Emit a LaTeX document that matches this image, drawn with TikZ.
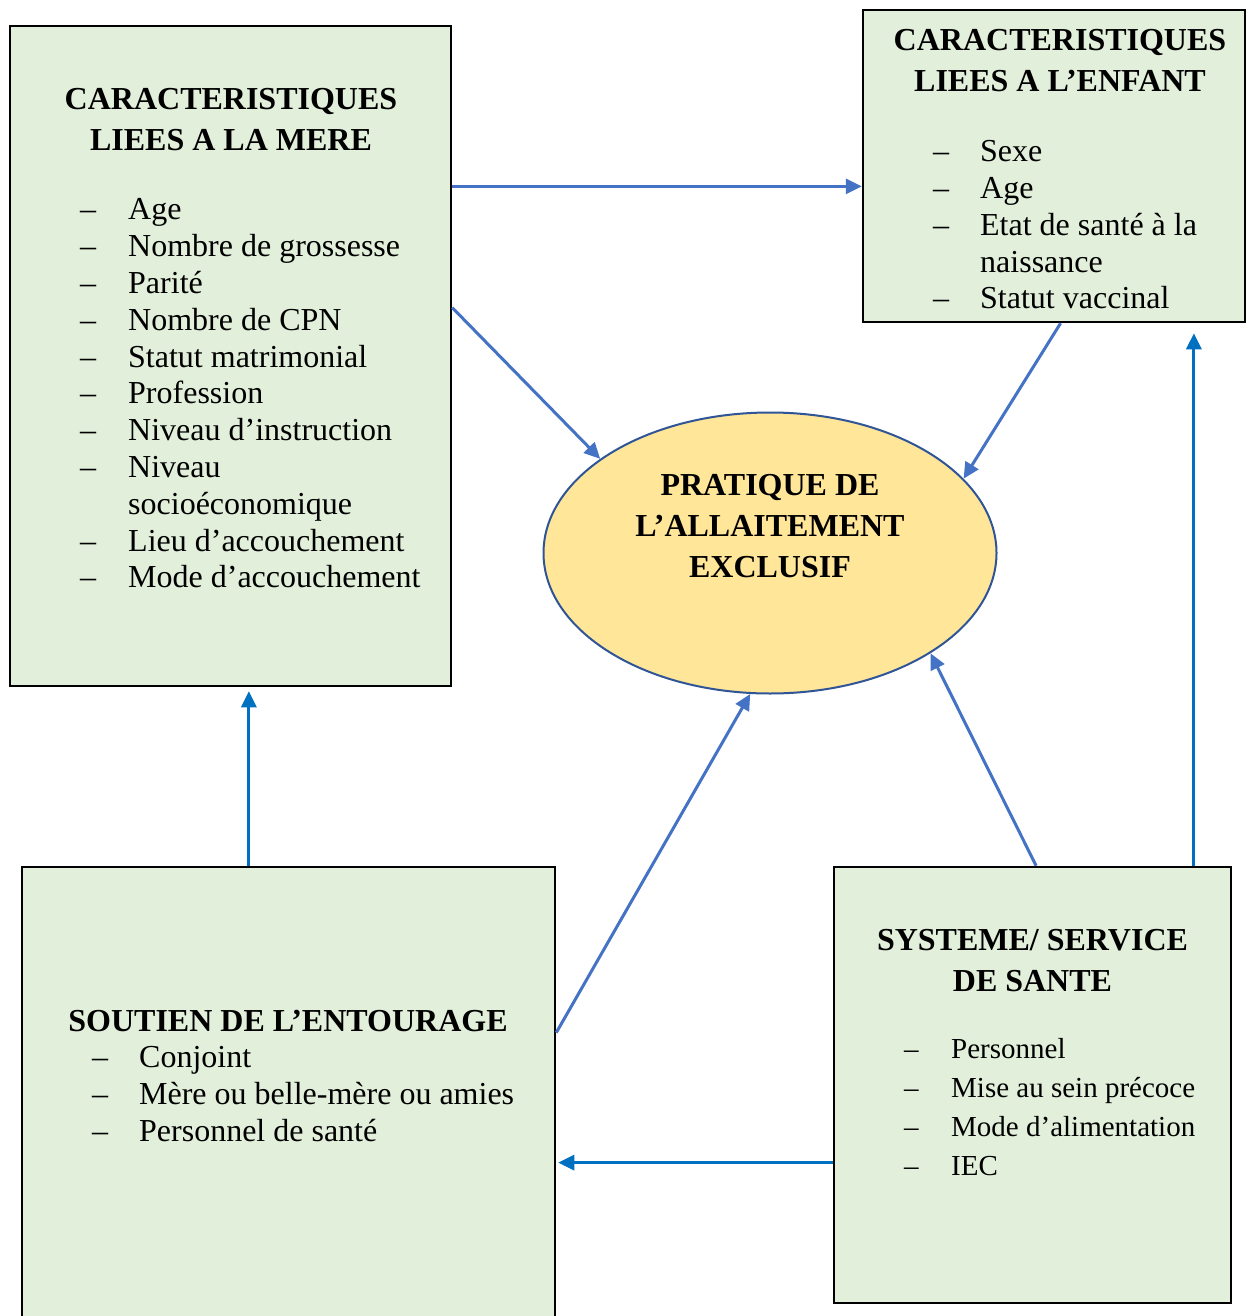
\documentclass[tikz,border=0pt]{standalone}
\usepackage{fontspec}
\setmainfont{Liberation Serif}
\usetikzlibrary{arrows.meta,calc,shapes.geometric}
\definecolor{boxfill}{HTML}{E2EFDA}
\definecolor{ellfill}{HTML}{FFE699}
\definecolor{elldraw}{HTML}{2F5597}
\definecolor{arrA}{HTML}{4472C4}
\definecolor{arrB}{HTML}{0070C0}
\begin{document}
\begin{tikzpicture}[x=1pt,y=-1pt,
  box/.style={draw=black,line width=2.5pt,fill=boxfill,rectangle,inner sep=0pt},
  ttl/.style={font=\fontsize{32}{41}\selectfont\bfseries,align=center,inner sep=0pt},
  lst/.style={font=\fontsize{32}{36.8}\selectfont,inner sep=0pt,anchor=west},
  lstsmall/.style={font=\fontsize{29}{39}\selectfont,inner sep=0pt,anchor=west},
  conA/.style={draw=arrA,line width=3pt,-{Triangle[length=16pt,width=15pt]}},
  conB/.style={draw=arrB,line width=3pt,-{Triangle[length=16pt,width=15pt]}}]
\clip (0,0) rectangle (1248,1316);
\fill[white] (0,0) rectangle (1248,1316);

% boxes
\node[box,minimum width=441pt,minimum height=660pt] (mere) at (230.5,356) {};
\node[box,minimum width=382pt,minimum height=312pt] (enfant) at (1054,166) {};
\node[box,minimum width=533pt,minimum height=473pt] (soutien) at (288.5,1103.5) {};
\node[box,minimum width=397pt,minimum height=436pt] (systeme) at (1032.5,1085) {};
\node[ellipse,draw=elldraw,line width=2pt,fill=ellfill,minimum width=453pt,minimum height=281pt,inner sep=0pt] (pae) at (770,553) {};

% texts
\node[ttl] (meretitle) at (231,119.5) {CARACTERISTIQUES\\LIEES A LA MERE};
\node[lst] (merelist) at (80,396.5) {\begin{tabular}{@{}p{48pt}@{}l@{}}
– & Age\\
– & Nombre de grossesse\\
– & Parité\\
– & Nombre de CPN\\
– & Statut matrimonial\\
– & Profession\\
– & Niveau d’instruction\\
– & Niveau\\
 & socioéconomique\\
– & Lieu d’accouchement\\
– & Mode d’accouchement
\end{tabular}};

\node[ttl] (enfanttitle) at (1060,60.5) {CARACTERISTIQUES\\LIEES A L’ENFANT};
\node[lst] (enfantlist) at (933,228) {\begin{tabular}{@{}p{47pt}@{}l@{}}
– & Sexe\\
– & Age\\
– & Etat de santé à la\\
 & naissance\\
– & Statut vaccinal
\end{tabular}};

\node[ttl] (paetext) at (770,526) {PRATIQUE DE\\L’ALLAITEMENT\\EXCLUSIF};

\node[ttl] (soutientitle) at (288,1021) {SOUTIEN DE L’ENTOURAGE};
\node[lst] (soutienlist) at (92,1097) {\begin{tabular}{@{}p{47pt}@{}l@{}}
– & Conjoint\\
– & Mère ou belle-mère ou amies\\
– & Personnel de santé
\end{tabular}};

\node[ttl] (systemetitle) at (1032.5,961) {SYSTEME/ SERVICE\\DE SANTE};
\node[lstsmall] (systemelist) at (904,1109.5) {\begin{tabular}{@{}p{47pt}@{}l@{}}
– & Personnel\\
– & Mise au sein précoce\\
– & Mode d’alimentation\\
– & IEC
\end{tabular}};

% connectors
\coordinate (a1) at ($(mere.north east)!0.244!(mere.south east)$);
\draw[conA] (a1) -- (a1 -| enfant.west);
\coordinate (a2) at ($(mere.north east)!0.427!(mere.south east)$);
\draw[conA] (a2) -- (pae.151);
\coordinate (a3) at ($(enfant.south west)!0.517!(enfant.south east)$);
\draw[conA] (a3) -- (pae.21);
\coordinate (a4) at ($(soutien.north west)!0.426!(soutien.north east)$);
\draw[conB] (a4) -- ([yshift=-4pt]a4 |- mere.south);
\coordinate (a5) at ($(soutien.north east)!0.351!(soutien.south east)$);
\draw[conA] (a5) -- (pae.262);
\coordinate (a6) at ($(systeme.north west)!0.509!(systeme.north east)$);
\draw[conA] (a6) -- (pae.328);
\coordinate (a7) at ($(systeme.north west)!0.904!(systeme.north east)$);
\draw[conB] (a7) -- ([yshift=-10pt]a7 |- enfant.south);
\coordinate (a8) at ($(systeme.north west)!0.677!(systeme.south west)$);
\draw[conB] (a8) -- ([xshift=2pt]a8 -| soutien.east);
\end{tikzpicture}
\end{document}
